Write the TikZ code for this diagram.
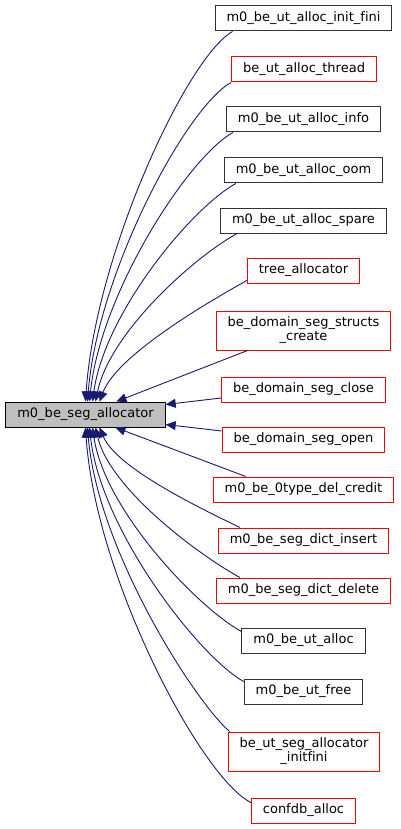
\documentclass[tikz,border=0pt]{standalone}
\usepackage{fontspec}
\setmainfont{DejaVu Sans}[Ligatures=CommonOff]
\usepackage{xcolor}
\usetikzlibrary{arrows.meta,positioning}

\definecolor{edgeblue}{HTML}{191970}
\definecolor{callred}{HTML}{FF0000}
\definecolor{boxgrey}{HTML}{BFBFBF}

\begin{document}
\begin{tikzpicture}[x=1pt, y=-1pt,
  every node/.style={font=\fontsize{13}{14}\selectfont},
  fn/.style={draw=black!80, line width=1pt, minimum height=25pt, inner xsep=11.5pt, inner ysep=0pt, align=center},
  fnred/.style={fn, draw=callred},
  fntall/.style={minimum height=39pt},
  fnmain/.style={fn, draw=black, fill=boxgrey},
  call/.style={draw=edgeblue, line width=0.9pt, -{Triangle[length=10pt,width=9pt]}}]

\useasboundingbox (0,0) rectangle (400,829);

% Called function
\node[fnmain] (main) at (85.5,414.5) {m0\_be\_seg\_allocator};

% Callers
\node[fn]    (n1)  at (303.5,18.5)  {m0\_be\_ut\_alloc\_init\_fini};
\node[fnred] (n2)  at (304,69.5)    {be\_ut\_alloc\_thread};
\node[fn]    (n3)  at (303.5,119.5) {m0\_be\_ut\_alloc\_info};
\node[fn]    (n4)  at (303.5,170.5) {m0\_be\_ut\_alloc\_oom};
\node[fn]    (n5)  at (303.5,220.5) {m0\_be\_ut\_alloc\_spare};
\node[fnred] (n6)  at (303.5,270.5) {tree\_allocator};
\node[fnred, fntall] (n7) at (303.5,330.5) {be\_domain\_seg\_structs\\\_create};
\node[fnred] (n8)  at (303.5,389.5) {be\_domain\_seg\_close};
\node[fnred] (n9)  at (303.5,439.5) {be\_domain\_seg\_open};
\node[fnred] (n10) at (303.5,489.5) {m0\_be\_0type\_del\_credit};
\node[fnred] (n11) at (303.5,540.5) {m0\_be\_seg\_dict\_insert};
\node[fnred] (n12) at (303.5,590.5) {m0\_be\_seg\_dict\_delete};
\node[fn]    (n13) at (303.5,640.5) {m0\_be\_ut\_alloc};
\node[fn]    (n14) at (303.5,691.5) {m0\_be\_ut\_free};
\node[fnred, fntall] (n15) at (304,751.5) {be\_ut\_seg\_allocator\\\_initfini};
\node[fnred] (n16) at (303.5,810.5) {confdb\_alloc};

% Edges into the top of the box
\draw[call] ([xshift=18pt]n1.south west) .. controls +(-45,25) and +(10,-148) .. ([xshift=0pt]main.north);
\draw[call] (n2.south west) .. controls +(-45,25) and +(10,-128) .. ([xshift=2pt]main.north);
\draw[call] ([xshift=7pt]n3.south west) .. controls +(-45,25) and +(11,-108) .. ([xshift=4pt]main.north);
\draw[call] ([xshift=12pt]n4.south west) .. controls +(-45,25) and +(12,-88) .. ([xshift=7pt]main.north);
\draw[call] ([xshift=17pt]n5.south west) .. controls +(-45,25) and +(14,-68) .. ([xshift=10pt]main.north);
\draw[call] ([yshift=3pt]n6.south west) .. controls +(-45,25) and +(17,-45) .. ([xshift=14pt]main.north);
\draw[call] ([xshift=32pt]n7.south west) -- ([xshift=31pt]main.north);

% Edges into the side of the box
\draw[call] ([yshift=-8.5pt]n8.west) -- ([yshift=10pt]main.east);
\draw[call] ([yshift=8.5pt]n9.west) -- ([yshift=-10pt]main.east);

% Edges into the bottom of the box
\draw[call] ([xshift=33pt]n10.north west) -- ([xshift=30pt]main.south);
\draw[call] ([xshift=22pt]n11.north west) .. controls +(-45,-22) and +(17,40) .. ([xshift=14pt]main.south);
\draw[call] ([xshift=24pt]n12.north west) .. controls +(-45,-25) and +(14,60) .. ([xshift=10pt]main.south);
\draw[call] ([yshift=-4pt]n13.north west) .. controls +(-45,-25) and +(12,82) .. ([xshift=7pt]main.south);
\draw[call] ([yshift=-3pt]n14.north west) .. controls +(-45,-25) and +(11,102) .. ([xshift=4pt]main.south);
\draw[call] ([xshift=2pt]n15.north west) .. controls +(-35,-30) and +(10,122) .. ([xshift=2pt]main.south);
\draw[call] ([yshift=-5pt]n16.north west) .. controls +(-50,-25) and +(10,150) .. ([xshift=0pt]main.south);

\end{tikzpicture}
\end{document}
